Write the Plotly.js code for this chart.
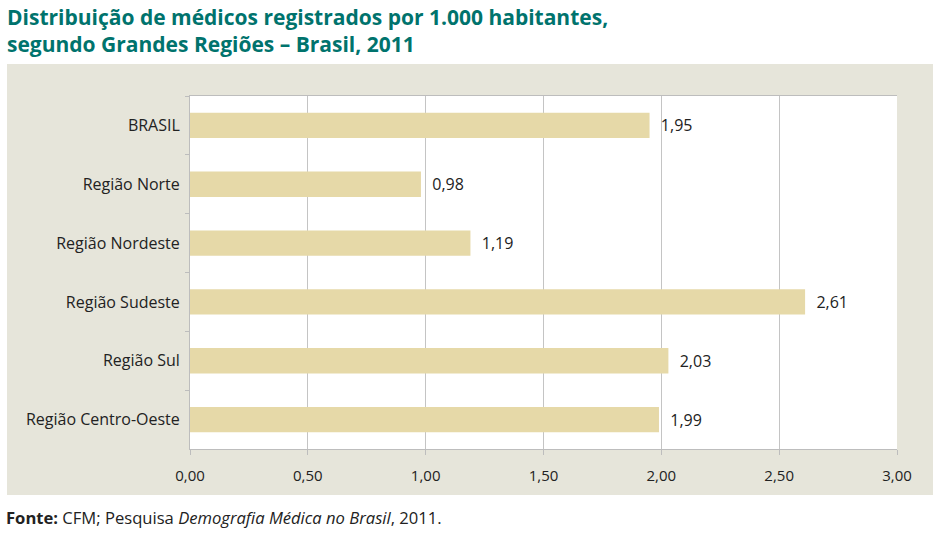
<!DOCTYPE html>
<html>
<head>
<meta charset="utf-8">
<script src="https://cdn.plot.ly/plotly-3.0.1.min.js"></script>
<style>html,body{margin:0;padding:0;background:#fff;}#chart{width:945px;height:554px;}</style>
</head>
<body>
<div id="chart"></div>
<script>
const categories = ["BRASIL", "Região Norte", "Região Nordeste", "Região Sudeste", "Região Sul", "Região Centro-Oeste"];
const values = [1.95, 0.98, 1.19, 2.61, 2.03, 1.99];
const tickValues = [0, 0.5, 1, 1.5, 2, 2.5, 3];

const W = 945, H = 554;
const L = 190, R = 897, T = 96, B = 449;
const px = x => (x - L) / (R - L);
const py = y => (B - y) / (B - T);

const trace = {
  type: 'bar',
  orientation: 'h',
  y: categories,
  x: values,
  width: 0.43,
  marker: {color: '#e6d9a8', line: {width: 0}},
  texttemplate: '\u00a0\u00a0%{x:.2f}',
  textposition: 'outside',
  cliponaxis: false,
  textfont: {family: 'Open Sans, sans-serif', size: 16, color: '#222'},
  hoverinfo: 'skip'
};

const layout = {
  width: W, height: H,
  separators: ',.',
  margin: {l: L, r: W - R, t: T, b: H - B, pad: 0},
  paper_bgcolor: '#ffffff',
  plot_bgcolor: 'rgba(0,0,0,0)',
  showlegend: false,
  title: {
    text: 'Distribuição de médicos registrados por 1.000 habitantes,<br>segundo Grandes Regiões – Brasil, 2011',
    font: {family: 'Open Sans, sans-serif', size: 21, color: '#00736d', weight: 700},
    x: 7 / W, xref: 'container', xanchor: 'left',
    y: 1 - 25 / H, yref: 'container', yanchor: 'middle'
  },
  xaxis: {
    range: [0, 3],
    tickvals: tickValues,
    tickformat: '.2f',
    showgrid: true, gridcolor: '#c4c4c4', gridwidth: 1,
    zeroline: false,
    showline: true, linecolor: '#bdbdbd', linewidth: 1, mirror: true,
    ticks: 'outside', ticklen: 5, tickcolor: '#bdbdbd',
    ticklabelstandoff: 8,
    tickfont: {family: 'Open Sans, sans-serif', size: 15, color: '#222'},
    fixedrange: true
  },
  yaxis: {
    type: 'category',
    autorange: 'reversed',
    showgrid: false,
    zeroline: false,
    showline: true, linecolor: '#bdbdbd', linewidth: 1,
    ticks: 'outside', ticklen: 4, tickcolor: '#bdbdbd',
    tickson: 'boundaries',
    ticklabelstandoff: 6,
    tickfont: {family: 'Open Sans, sans-serif', size: 16, color: '#222'},
    fixedrange: true
  },
  shapes: [
    {type: 'rect', xref: 'paper', yref: 'paper', layer: 'below',
     x0: px(7), x1: px(933), y0: py(495), y1: py(64),
     fillcolor: '#e6e5da', line: {width: 0}},
    {type: 'rect', xref: 'paper', yref: 'paper', layer: 'below',
     x0: 0, x1: 1, y0: 0, y1: 1,
     fillcolor: '#ffffff', line: {width: 0}}
  ],
  annotations: [
    {xref: 'paper', yref: 'paper', x: px(4), y: py(517), xanchor: 'left', yanchor: 'middle',
     showarrow: false, align: 'left',
     text: '<b>Fonte:</b> CFM; Pesquisa <i>Demografia Médica no Brasil</i>, 2011.',
     font: {family: 'Open Sans, sans-serif', size: 16.6, color: '#222'}}
  ]
};

Plotly.newPlot('chart', [trace], layout, {displayModeBar: false, staticPlot: true});
</script>
</body>
</html>
